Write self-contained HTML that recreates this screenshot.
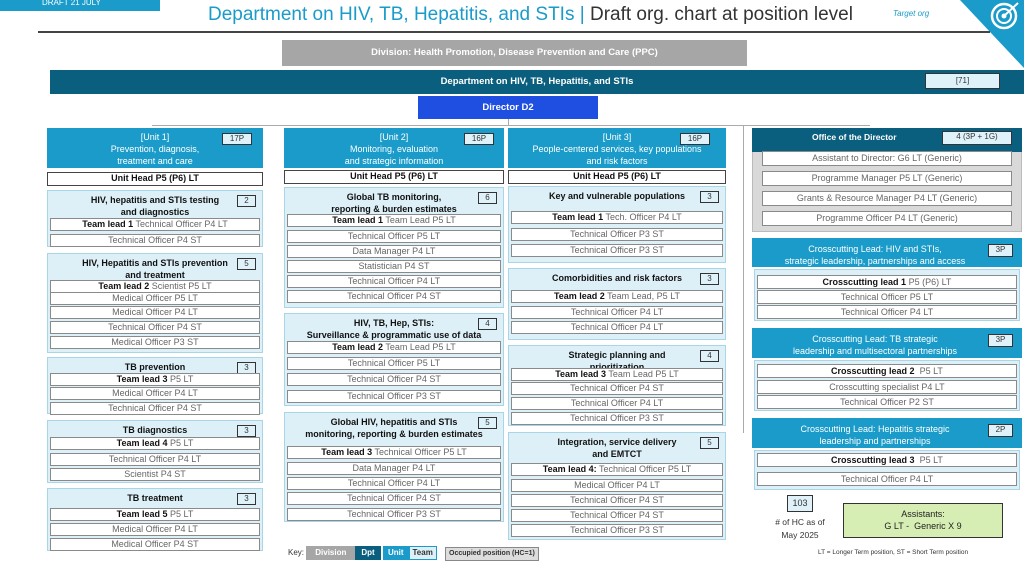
<!DOCTYPE html>
<html><head><meta charset="utf-8"><style>
body{margin:0;width:1024px;height:561px;overflow:hidden;background:#fff;font-family:"Liberation Sans",sans-serif;position:relative}
.a{position:absolute;box-sizing:border-box}
.row{background:#fff;border:1px solid #8a8a8a;font-size:9px;color:#666;text-align:center;line-height:11px;white-space:nowrap;overflow:hidden}
.row b{color:#111}
.team{background:#ddf0f7;border:1px solid #a9d6e6}
.tt{font-size:9px;font-weight:bold;color:#111;text-align:center;line-height:12px}
.hdr{background:#1a9bc9;color:#fff;font-size:9px;text-align:center;line-height:12px}
.badge{background:#dff2fa;border:1.5px solid #333;font-size:8px;text-align:center;line-height:10px;color:#333}
.ln{position:absolute;background:#aaa}
</style></head><body>
<div class="a" style="left:0;top:0;width:160px;height:11px;background:#1a9bc9;color:#fff;font-size:8px;line-height:6px;padding-left:42px">DRAFT 21 JULY</div>
<div class="a" style="left:208px;top:4px;width:690px;font-size:19px;color:#333;white-space:nowrap"><span style="color:#1a9bc9">Department on HIV, TB, Hepatitis, and STIs</span> <span style="color:#1a9bc9">|</span> Draft org. chart at position level</div>
<div class="a" style="left:893px;top:9px;font-size:8px;font-style:italic;color:#1a9bc9">Target org</div>
<svg class="a" style="left:960px;top:0" width="64" height="70"><polygon points="0,0 64,0 64,68" fill="#1a9bc9"/><circle cx="44" cy="16" r="12" fill="none" stroke="#fff" stroke-width="2.5"/><circle cx="44" cy="16" r="7" fill="none" stroke="#fff" stroke-width="2"/><circle cx="44" cy="16" r="2.5" fill="#fff"/><line x1="44" y1="16" x2="58" y2="3" stroke="#fff" stroke-width="2"/></svg>
<div class="a" style="left:38px;top:31px;width:952px;height:2px;background:#444"></div>
<div class="a" style="left:282px;top:40px;width:465px;height:26px;background:#a6a6a6;color:#fff;font-size:9.5px;font-weight:bold;text-align:center;line-height:26px">Division: Health Promotion, Disease Prevention and Care (PPC)</div>
<div class="a" style="left:50px;top:70px;width:974px;height:24px;background:#0a5f7e;color:#fff;font-size:9.5px;font-weight:bold;text-align:center;line-height:24px">Department on HIV, TB, Hepatitis, and STIs</div>
<div class="a badge" style="left:925px;top:73px;width:75px;height:16px;line-height:13px">[71]</div>
<div class="a" style="left:418px;top:96px;width:180px;height:23px;background:#1f4fe0;color:#fff;font-size:9.5px;font-weight:bold;text-align:center;line-height:23px">Director D2</div>
<div class="ln" style="left:152px;top:125px;width:718px;height:1px"></div>
<div class="ln" style="left:508px;top:119px;width:1px;height:7px"></div>
<div class="ln" style="left:743px;top:126px;width:1px;height:307px"></div>
<div id="root"></div>
<div class="a badge" style="left:787px;top:495px;width:26px;height:17px;line-height:14px;font-size:9px">103</div>
<div class="a" style="left:760px;top:516px;width:80px;font-size:8.5px;text-align:center;color:#333;line-height:13px"># of HC as of<br>May 2025</div>
<div class="a" style="left:843px;top:503px;width:160px;height:35px;background:#d6eeb4;border:1.5px solid #333;font-size:9px;text-align:center;line-height:12px;padding-top:4px;color:#222">Assistants:<br>G LT -&nbsp; Generic X 9</div>
<div class="a" style="left:288px;top:546px;height:14px;font-size:8px;line-height:14px;white-space:nowrap;color:#333">
<span>Key:</span>
<span style="display:inline-block;background:#a6a6a6;color:#fff;padding:0 9px;font-weight:bold">Division</span><span style="display:inline-block;background:#0a5f7e;color:#fff;padding:0 6px;font-weight:bold">Dpt</span>
<span style="display:inline-block;background:#1a9bc9;color:#fff;padding:0 5px;font-weight:bold">Unit</span><span style="display:inline-block;background:#ddf0f7;border:1px solid #1a9bc9;padding:0 3px;line-height:12px;font-weight:bold">Team</span>
<span style="display:inline-block;background:#ddd;border:1px solid #888;padding:0 3px;line-height:12px;margin-left:6px;font-size:7px;font-weight:bold">Occupied position (HC=1)</span></div>
<div class="a" style="left:818px;top:549px;font-size:6.5px;color:#333;white-space:nowrap">LT = Longer Term position, ST = Short Term position</div>
<script>
var root=document.getElementById('root');
function mk(x,y,w,h,cls,html,name,style){
 var d=document.createElement('div');
 d.className='a '+cls;
 d.style.cssText='left:'+x+'px;top:'+y+'px;width:'+w+'px;height:'+h+'px;'+(style||'');
 d.innerHTML=html;
 
 
 root.appendChild(d);return d;
}
function unit(x,w,title,badge,bx,hid){
 mk(x,128,w,40,'hdr','<div style="padding-top:3px">'+title+'</div>',hid);
 mk(bx,133,30,12,'badge',badge,hid+'-badge');
}
function team(x,y,w,h,title,tlines,badge,rows,name){
 mk(x,y,w,h,'team','',name);
 mk(x+4,y+4,w-8,tlines*12,'tt',title,name+'-title');
 mk(x+w-26,y+5,19,12,'badge',badge,name+'-badge');
 for(var i=0;i<rows.length;i++){
  mk(x+3,rows[i][0]-6,w-6,13,'row',rows[i][1],name+'-position');
 }
}
unit(47,216,'[Unit 1]<br>Prevention, diagnosis,<br>treatment and care','17P',222,'unit-1-header');
mk(47,172,216,14,'row','<b>Unit Head P5 (P6) LT</b>','unit-1-head','border:1.5px solid #444');
team(47,190,216,57,'HIV, hepatitis and STIs testing<br>and diagnostics',2,'2',[[224,'<b>Team lead 1</b> Technical Officer P4 LT'],[240,'Technical Officer P4 ST']],'team-testing');
team(47,253,216,100,'HIV, Hepatitis and STIs prevention<br>and treatment',2,'5',[[286,'<b>Team lead 2</b> Scientist P5 LT'],[298,'Medical Officer P5 LT'],[312,'Medical Officer P4 LT'],[327,'Technical Officer P4 ST'],[342,'Medical Officer P3 ST']],'team-prevention-treatment');
team(47,357,216,57,'TB prevention',1,'3',[[379,'<b>Team lead 3</b> P5 LT'],[393,'Medical Officer P4 LT'],[408,'Technical Officer P4 ST']],'team-tb-prevention');
team(47,420,216,63,'TB diagnostics',1,'3',[[443,'<b>Team lead 4</b> P5 LT'],[459,'Technical Officer P4 LT'],[474,'Scientist P4 ST']],'team-tb-diagnostics');
team(47,488,216,63,'TB treatment',1,'3',[[514,'<b>Team lead 5</b> P5 LT'],[529,'Medical Officer P4 LT'],[544,'Medical Officer P4 ST']],'team-tb-treatment');
unit(284,220,'[Unit 2]<br>Monitoring, evaluation<br>and strategic information','16P',464,'unit-2-header');
mk(284,170,220,14,'row','<b>Unit Head P5 (P6) LT</b>','unit-2-head','border:1.5px solid #444');
team(284,187,220,121,'Global TB monitoring,<br>reporting &amp; burden estimates',2,'6',[[220,'<b>Team lead 1</b> Team Lead P5 LT'],[236,'Technical Officer P5 LT'],[251,'Data Manager P4 LT'],[266,'Statistician P4 ST'],[281,'Technical Officer P4 LT'],[296,'Technical Officer P4 ST']],'team-global-tb');
team(284,313,220,93,'HIV, TB, Hep, STIs:<br>Surveillance &amp; programmatic use of data',2,'4',[[347,'<b>Team lead 2</b> Team Lead P5 LT'],[363,'Technical Officer P5 LT'],[379,'Technical Officer P4 ST'],[396,'Technical Officer P3 ST']],'team-surveillance');
team(284,412,220,110,'Global HIV, hepatitis and STIs<br>monitoring, reporting &amp; burden estimates',2,'5',[[452,'<b>Team lead 3</b> Technical Officer P5 LT'],[468,'Data Manager P4 LT'],[483,'Technical Officer P4 LT'],[498,'Technical Officer P4 ST'],[514,'Technical Officer P3 ST']],'team-global-hiv');
unit(508,218,'[Unit 3]<br>People-centered services, key populations<br>and risk factors','16P',680,'unit-3-header');
mk(508,170,218,14,'row','<b>Unit Head P5 (P6) LT</b>','unit-3-head','border:1.5px solid #444');
team(508,186,218,77,'Key and vulnerable populations',1,'3',[[217,'<b>Team lead 1</b> Tech. Officer P4 LT'],[234,'Technical Officer P3 ST'],[250,'Technical Officer P3 ST']],'team-key-populations');
team(508,268,218,72,'Comorbidities and risk factors',1,'3',[[296,'<b>Team lead 2</b> Team Lead, P5 LT'],[312,'Technical Officer P4 LT'],[327,'Technical Officer P4 LT']],'team-comorbidities');
team(508,345,218,81,'Strategic planning and<br>prioritization',2,'4',[[374,'<b>Team lead 3</b> Team Lead P5 LT'],[388,'Technical Officer P4 ST'],[403,'Technical Officer P4 LT'],[418,'Technical Officer P3 ST']],'team-strategic-planning');
team(508,432,218,108,'Integration, service delivery<br>and EMTCT',2,'5',[[469,'<b>Team lead 4:</b> Technical Officer P5 LT'],[485,'Medical Officer P4 LT'],[500,'Technical Officer P4 ST'],[515,'Technical Officer P4 ST'],[530,'Technical Officer P3 ST']],'team-integration');
mk(752,128,270,104,'','','office-area','background:#d9d9d9;border:1px solid #bbb');
mk(752,128,270,24,'','<div style="padding:4px 0 0 60px;font-weight:bold">Office of the Director</div>','office-header','background:#0a5f7e;color:#fff;font-size:8.5px');
mk(942,131,70,14,'badge','4 (3P + 1G)','office-badge');
var off=[[158,'Assistant to Director: G6 LT (Generic)'],[178,'Programme Manager P5 LT (Generic)'],[198,'Grants &amp; Resource Manager P4 LT (Generic)'],[218,'Programme Officer P4 LT (Generic)']];
for(var i=0;i<off.length;i++){mk(762,off[i][0]-7,250,15,'row',off[i][1],'office-position','line-height:13px');}
function cross(y,hh,title,badge,ch,rows,name){
 mk(752,y,270,hh,'hdr','<div style="padding:5px 24px 0 0">'+title+'</div>',name+'-header');
 mk(988,y+6,25,13,'badge',badge,name+'-badge');
 mk(754,y+hh+2,266,ch,'team','',name+'-team');
 for(var i=0;i<rows.length;i++){mk(757,rows[i][0]-7,260,14,'row',rows[i][1],name+'-position','line-height:12px');}
}
cross(238,29,'Crosscutting Lead: HIV and STIs,<br>strategic leadership, partnerships and access','3P',52,[[282,'<b>Crosscutting lead 1</b> P5 (P6) LT'],[297,'Technical Officer P5 LT'],[312,'Technical Officer P4 LT']],'crosscutting-hiv');
cross(328,30,'Crosscutting Lead: TB strategic<br>leadership and multisectoral partnerships','3P',51,[[371,'<b>Crosscutting lead 2</b>&nbsp; P5 LT'],[387,'Crosscutting specialist P4 LT'],[402,'Technical Officer P2 ST']],'crosscutting-tb');
cross(418,30,'Crosscutting Lead: Hepatitis strategic<br>leadership and partnerships','2P',40,[[460,'<b>Crosscutting lead 3</b>&nbsp; P5 LT'],[479,'Technical Officer P4 LT']],'crosscutting-hepatitis');
</script>
</body></html>
